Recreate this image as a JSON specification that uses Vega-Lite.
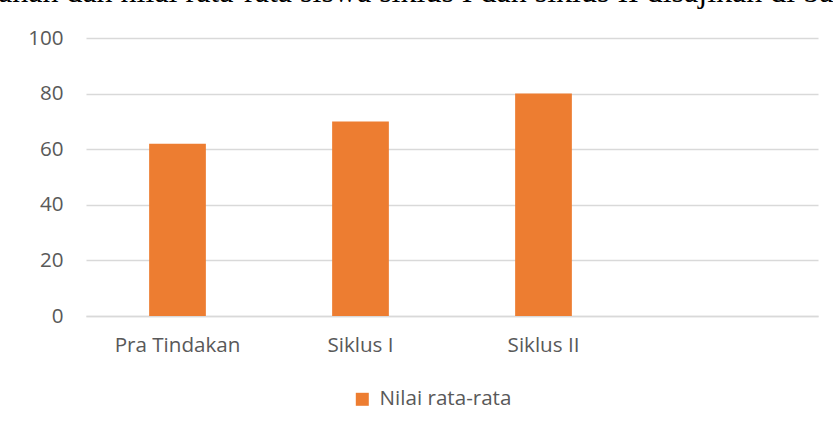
{
  "$schema": "https://vega.github.io/schema/vega-lite/v6.json",
  "width": 732,
  "height": 278,
  "autosize": {"type": "none"},
  "padding": {"left": 86, "top": 38, "right": 15, "bottom": 117},
  "background": "white",
  "title": {
    "text": "ahan dan nilai rata-rata siswa siklus I dan siklus II disajikan di bawah ini",
    "anchor": "start",
    "frame": "group",
    "font": "Liberation Serif",
    "fontSize": 32,
    "fontWeight": "normal",
    "color": "black",
    "baseline": "alphabetic",
    "offset": 0,
    "dx": -88,
    "dy": 5.5
  },
  "data": {
    "values": [
      {"kategori": "Pra Tindakan", "nilai": 62, "seri": "Nilai rata-rata"},
      {"kategori": "Siklus I", "nilai": 70, "seri": "Nilai rata-rata"},
      {"kategori": "Siklus II", "nilai": 80, "seri": "Nilai rata-rata"}
    ]
  },
  "mark": {"type": "bar"},
  "encoding": {
    "x": {
      "field": "kategori",
      "type": "nominal",
      "sort": null,
      "scale": {"domain": ["Pra Tindakan", "Siklus I", "Siklus II", " "], "paddingInner": 0.69, "paddingOuter": 0.345},
      "axis": {
        "title": null,
        "labelAngle": 0,
        "labelFont": "Open Sans",
        "labelFontSize": 20.6,
        "labelColor": "#595959",
        "labelPadding": 19,
        "ticks": false,
        "domainColor": "#D9D9D9",
        "domainWidth": 1.5
      }
    },
    "y": {
      "field": "nilai",
      "type": "quantitative",
      "scale": {"domain": [0, 100]},
      "axis": {
        "title": null,
        "values": [0, 20, 40, 60, 80, 100],
        "labelFont": "Open Sans",
        "labelFontSize": 20.6,
        "labelColor": "#595959",
        "labelPadding": 23,
        "ticks": false,
        "domain": false,
        "gridColor": "#D9D9D9",
        "gridWidth": 1.5
      }
    },
    "color": {
      "field": "seri",
      "type": "nominal",
      "scale": {"range": ["#ED7D31"]},
      "legend": {
        "title": null,
        "orient": "none",
        "legendX": 266,
        "legendY": 351,
        "symbolType": "square",
        "symbolSize": 169,
        "symbolStrokeWidth": 0,
        "labelFont": "Open Sans",
        "labelFontSize": 20.6,
        "labelColor": "#595959",
        "labelOffset": 7
      }
    }
  },
  "config": {
    "view": {"stroke": null}
  }
}
